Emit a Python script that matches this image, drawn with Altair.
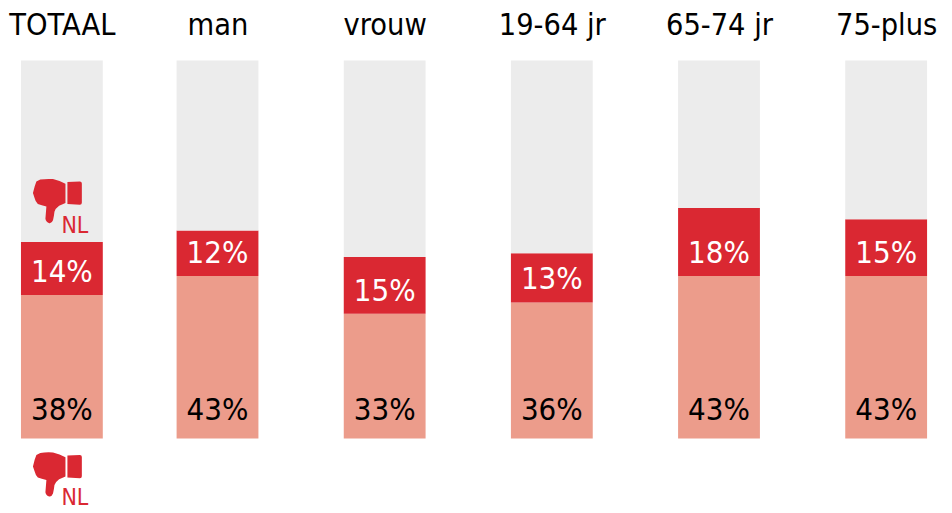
import altair as alt
import pandas as pd

groepen = ["TOTAAL", "man", "vrouw", "19-64 jr", "65-74 jr", "75-plus"]
licht = [38, 43, 33, 36, 43, 43]
donker = [14, 12, 15, 13, 18, 15]
totaal = 100

FONT = "DejaVu Sans Condensed, Open Sans"
GRIJS, ROOD, ZALM = "#ececec", "#da2832", "#ec9c8b"
DUIM = ("M-.70 -.88 Q-.45 -.92 -.18 -.90 Q.10 -.84 .33 -.71 L.33 .08 Q.18 .14 .07 .19 "
        "Q-.08 .30 -.12 .43 Q-.14 .62 -.18 .78 Q-.24 .92 -.33 .90 Q-.47 .86 -.49 .72 "
        "L-.45 .22 Q-.65 .17 -.80 .12 Q-.90 .02 -.93 -.12 L-1 -.33 L-.93 -.60 L-.86 -.80 Z "
        "M.41 -.78 L.92 -.80 Q1 -.80 1 -.72 L1 .07 Q1 .15 .92 .15 L.41 .12 Z")

rijen = []
for g, l, d in zip(groepen, licht, donker):
    rijen.append({"groep": g, "deel": "licht", "volgorde": 0, "waarde": l})
    rijen.append({"groep": g, "deel": "donker", "volgorde": 1, "waarde": d})
    rijen.append({"groep": g, "deel": "rest", "volgorde": 2, "waarde": totaal - l - d})
lang = pd.DataFrame(rijen)
breed = pd.DataFrame({"groep": groepen, "licht": licht, "donker": donker})
breed["licht_tekst"] = breed["licht"].astype(str) + "%"
breed["donker_tekst"] = breed["donker"].astype(str) + "%"

H = 379
yschaal = alt.Scale(domain=[0, totaal], nice=False, zero=True)


def paneel(cats, breedte, padding):
    x = alt.X(
        "groep:N",
        sort=cats,
        scale=alt.Scale(type="point", domain=cats, padding=padding),
        axis=alt.Axis(orient="top", title=None, domain=False, ticks=False, labelAngle=0,
                      labelFontSize=30.5, labelFont=FONT, labelColor="#000000",
                      labelPadding=20, labelFlush=False, labelOverlap=False, grid=False),
    )
    filt = alt.FieldOneOfPredicate(field="groep", oneOf=cats)
    staaf = alt.Chart(lang).transform_filter(filt).mark_bar(size=82).encode(
        x=x,
        y=alt.Y("waarde:Q", stack="zero", scale=yschaal, axis=None),
        color=alt.Color("deel:N", legend=None,
                        scale=alt.Scale(domain=["licht", "donker", "rest"], range=[ZALM, ROOD, GRIJS])),
        order=alt.Order("volgorde:Q"),
    )
    t1 = alt.Chart(breed).transform_filter(filt).mark_text(
        font=FONT, fontSize=31, color="#000000", baseline="middle").encode(
        x=x, y=alt.value(H - 28), text="licht_tekst:N")
    t2 = alt.Chart(breed).transform_filter(filt).mark_text(
        font=FONT, fontSize=31, color="#ffffff", baseline="middle", dy=-22).encode(
        x=x, y=alt.Y("licht:Q", scale=yschaal, axis=None), text="donker_tekst:N")
    return [staaf, t1, t2]


def icoon(yc, nl_y):
    d = alt.Data(values=[{"naam": "NL"}])
    duim = alt.Chart(d).mark_point(shape=DUIM, filled=True, opacity=1, color=ROOD, size=2401, strokeWidth=0).encode(
        x=alt.value(49.5), y=alt.value(yc))
    nl = alt.Chart(d).mark_text(font=FONT, fontSize=23, color=ROOD, align="center", baseline="alphabetic").encode(
        x=alt.value(67), y=alt.value(nl_y), text="naam:N")
    return [duim, nl]


links = alt.layer(*paneel(groepen[:1], 108, 0.5), *icoon(141, 173), *icoon(415, 446)).properties(width=108, height=H)
rechts = alt.layer(*paneel(groepen[1:], 786, 0.346)).properties(width=786, height=H)

chart = alt.hconcat(links, rechts, spacing=44).resolve_scale(x="independent", color="shared").properties(
    padding={"left": 0, "top": 2, "right": 0, "bottom": 0}
).configure_view(stroke=None)

chart.save("out.html", embed_options={"renderer": "svg", "actions": False})
